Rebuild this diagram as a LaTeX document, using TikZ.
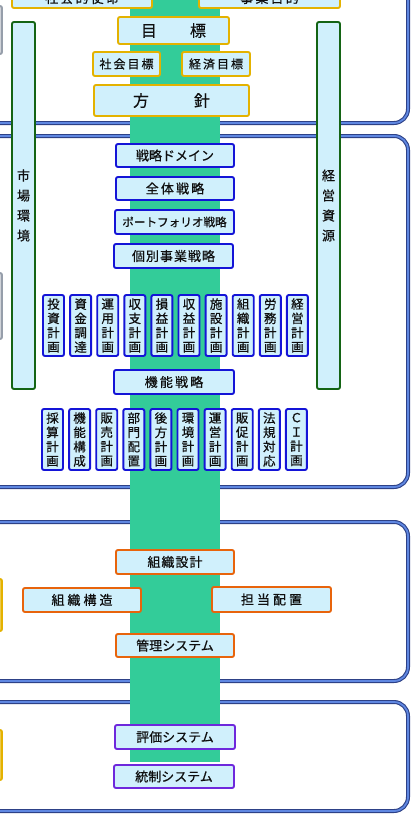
\documentclass[tikz,border=0pt]{standalone}
\usepackage{fontspec}
\newfontfamily\jp[FakeBold=0.6]{Noto Sans CJK JP}
\definecolor{boxfill}{RGB}{208,240,252}
\definecolor{goldline}{RGB}{228,178,0}
\definecolor{blueline}{RGB}{20,20,215}
\definecolor{orangeline}{RGB}{232,100,12}
\definecolor{purpleline}{RGB}{110,40,220}
\definecolor{envgreen}{RGB}{20,100,20}
\definecolor{bandgreen}{RGB}{51,204,153}
\definecolor{panelnavy}{RGB}{45,65,135}
\definecolor{panelblue}{RGB}{95,135,225}
\definecolor{stubgray}{RGB}{150,158,170}
\definecolor{textgray}{RGB}{15,15,15}
\tikzset{
  panel/.style={
    draw=panelnavy, double=panelblue, double distance=1.8pt,
    line width=1.1pt, rounded corners=14pt, fill=white
  },
  boxbase/.style={
    fill=boxfill, rounded corners=2pt, line width=1.9pt, inner sep=0pt,
    text=textgray, font=\jp\fontsize{13}{15}\selectfont
  },
  goalbox/.style={boxbase, draw=goldline},
  stratbox/.style={boxbase, draw=blueline},
  planbox/.style={
    stratbox, minimum width=21pt, minimum height=61pt, align=center,
    font=\jp\fontsize{12.5}{14.3}\selectfont
  },
  orgbox/.style={boxbase, draw=orangeline},
  ctrlbox/.style={boxbase, draw=purpleline},
  envbar/.style={
    boxbase, draw=envgreen, minimum width=23pt, minimum height=367pt,
    align=center, font=\jp\fontsize{13}{20}\selectfont
  },
  stub/.style={boxbase, minimum width=40pt}
}

\begin{document}
\begin{tikzpicture}[x=1pt, y=-1pt]
  \useasboundingbox (0,0) rectangle (415,816);
  \clip (0,0) rectangle (415,816);

  % the four panels, cut off on the left
  \draw[panel] (-40,-40) rectangle (408,123);
  \draw[panel] (-40,136) rectangle (408,487);
  \draw[panel] (-40,522) rectangle (408,681);
  \draw[panel] (-40,702) rectangle (408,811);

  % green band behind the middle column
  \fill[bandgreen] (130,-5) rectangle (220,762);

  % boxes reaching in from the left edge
  \node[stub, draw=stubgray, fill=stubgray!45, minimum height=48pt] (stub-a) at (-18,30) {};
  \node[stub, draw=stubgray, fill=stubgray!45, minimum height=66pt] (stub-b) at (-18,306) {};
  \node[stub, draw=goldline, fill=goldline!70, minimum height=52pt] (stub-c) at (-18,605) {};
  \node[stub, draw=goldline, fill=goldline!70, minimum height=50pt] (stub-d) at (-18,755) {};

  % goals and policy
  \node[goalbox, minimum width=140pt, minimum height=20pt] (mission) at (82,-2) {社\,会\,的\,使\,命};
  \node[goalbox, minimum width=141pt, minimum height=20pt] (purpose) at (269.5,-2) {事\,業\,目\,的};
  \node[goalbox, minimum width=111pt, minimum height=27pt, font=\jp\fontsize{16}{18}\selectfont]
    (goal) at (173.5,30.5) {目\hspace{33pt}標};
  \node[goalbox, minimum width=67pt, minimum height=24pt, font=\jp\fontsize{12}{14}\selectfont]
    (socgoal) at (126.5,64) {社\,会\,目\,標};
  \node[goalbox, minimum width=68pt, minimum height=24pt, font=\jp\fontsize{12}{14}\selectfont]
    (ecogoal) at (216,64) {経\,済\,目\,標};
  \node[goalbox, minimum width=155pt, minimum height=31pt, font=\jp\fontsize{16}{18}\selectfont]
    (policy) at (171.5,100.5) {方\hspace{45pt}針};

  % environment and resources
  \node[envbar] (market) at (23.5,205.5) {市\\場\\環\\境};
  \node[envbar] (resource) at (328.5,205.5) {経\\営\\資\\源};

  % strategies
  \node[stratbox, minimum width=118pt, minimum height=23pt] (domain) at (175,155.5) {戦略ドメイン};
  \node[stratbox, minimum width=118pt, minimum height=23pt] (corp) at (175,188.5) {全\,体\,戦\,略};
  \node[stratbox, minimum width=119pt, minimum height=24pt, font=\jp\fontsize{11.6}{14}\selectfont]
    (portfolio) at (174.5,222) {ポートフォリオ戦略};
  \node[stratbox, minimum width=119pt, minimum height=24pt] (business) at (173.5,256) {個\kern1pt 別\kern1pt 事\kern1pt 業\kern1pt 戦\kern1pt 略};

  % business plans
  \foreach \txt [count=\i from 0] in {{投\\資\\計\\画}, {資\\金\\調\\達}, {運\\用\\計\\画},
      {収\\支\\計\\画}, {損\\益\\計\\画}, {収\\益\\計\\画}, {施\\設\\計\\画},
      {組\\織\\計\\画}, {労\\務\\計\\画}, {経\\営\\計\\画}}
    \node[planbox] (plan-\i) at ({53.5+27.1*\i},325.5) {\txt};

  \node[stratbox, minimum width=120pt, minimum height=24pt] (function) at (174,382) {機\,能\,戦\,略};

  % functional plans
  \foreach \txt [count=\i from 0] in {{採\\算\\計\\画}, {機\\能\\構\\成}, {販\\売\\計\\画},
      {部\\門\\配\\置}, {後\\方\\計\\画}, {環\\境\\計\\画}, {運\\営\\計\\画},
      {販\\促\\計\\画}, {法\\規\\対\\応}, {Ｃ\\Ｉ\\計\\画}}
    \node[planbox] (func-\i) at ({52.5+27.1*\i},439.5) {\txt};

  % organisation
  \node[orgbox, minimum width=118pt, minimum height=24pt] (orgdesign) at (175,562) {組\kern1pt 織\kern1pt 設\kern1pt 計};
  \node[orgbox, minimum width=118pt, minimum height=24pt] (orgstruct) at (82,600) {組\kern3pt 織\kern3pt 構\kern3pt 造};
  \node[orgbox, minimum width=119pt, minimum height=25pt] (assign) at (271.5,599.5) {担\kern3pt 当\kern3pt 配\kern3pt 置};
  \node[orgbox, minimum width=118pt, minimum height=23pt] (mgmt) at (175,645.5) {管理システム};

  % control
  \node[ctrlbox, minimum width=120pt, minimum height=24pt] (evaluation) at (175,737) {評価システム};
  \node[ctrlbox, minimum width=120pt, minimum height=23pt] (control) at (174,776.5) {統制システム};
\end{tikzpicture}
\end{document}
